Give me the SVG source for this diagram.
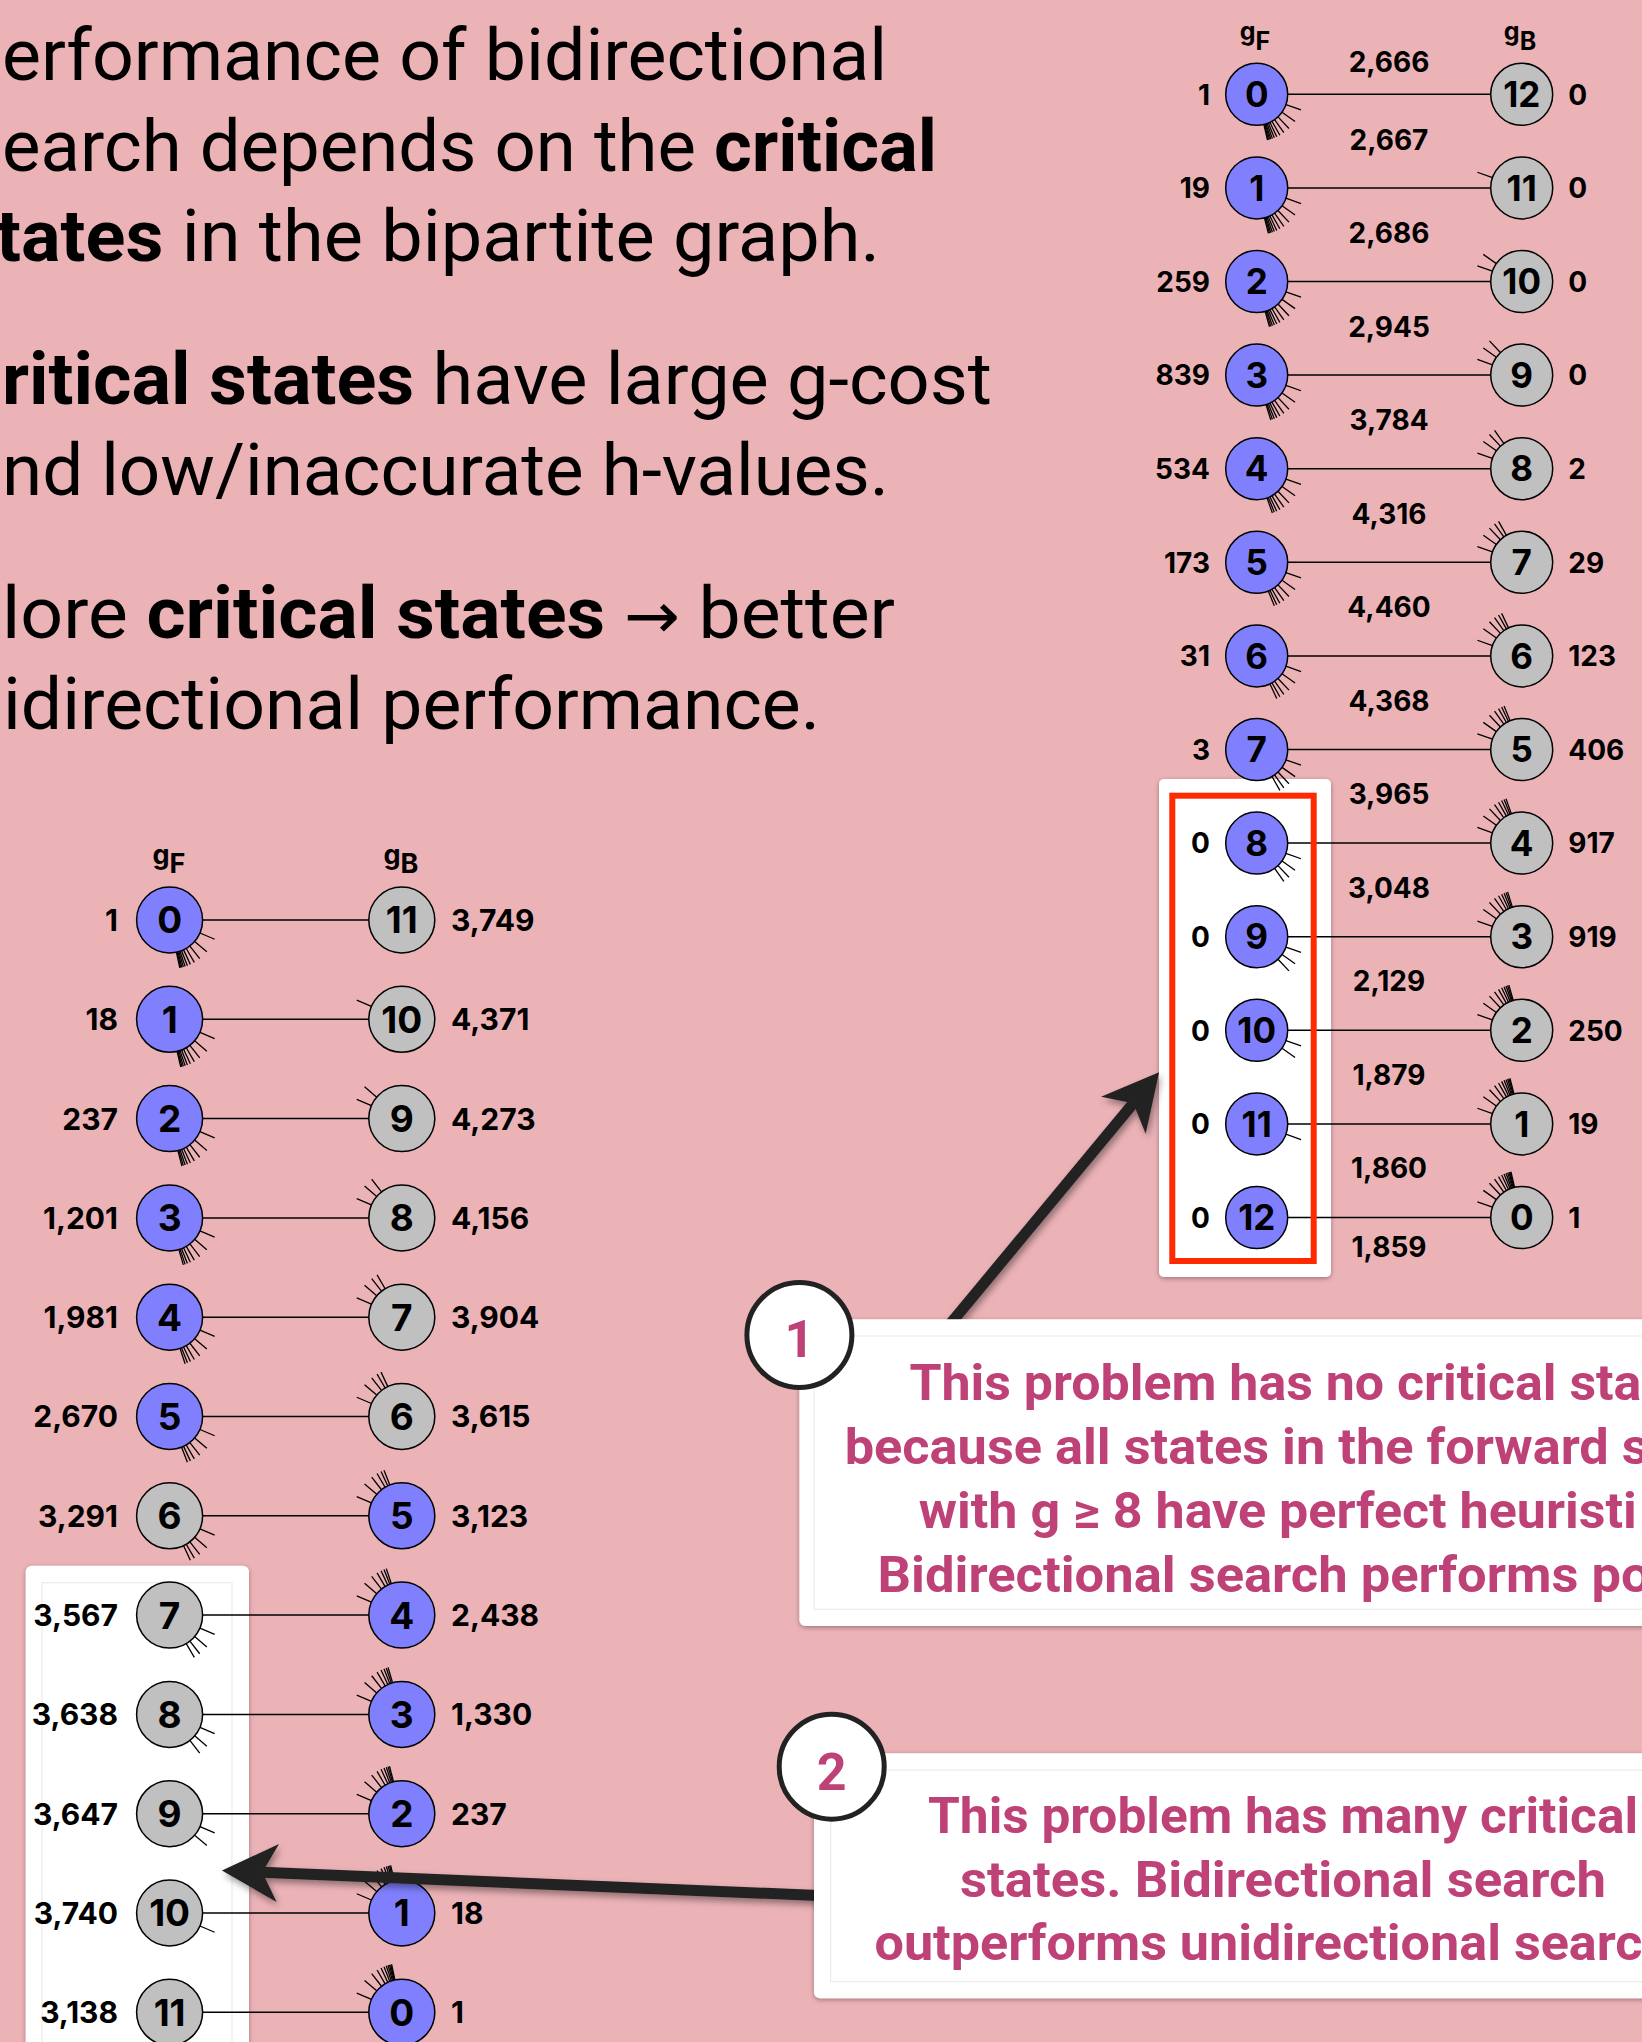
<svg xmlns="http://www.w3.org/2000/svg" xmlns:xlink="http://www.w3.org/1999/xlink" width="1642" height="2042" viewBox="0 0 1642 2042">
<style>
.nb{fill:#8080ff;stroke:#000;stroke-width:1.5}
.ng{fill:#c0c0c0;stroke:#000;stroke-width:1.5}
.nl{font-family:Inter,"Liberation Sans",sans-serif;font-weight:700;font-size:35px;text-anchor:middle;fill:#000}
.nl2{font-family:Inter,"Liberation Sans",sans-serif;font-weight:700;font-size:37px;text-anchor:middle;fill:#000}
.vl{font-family:Inter,"Liberation Sans",sans-serif;font-weight:700;font-size:28px;fill:#000}
.vl2{font-family:Inter,"Liberation Sans",sans-serif;font-weight:700;font-size:30px;fill:#000}
.el{font-family:Inter,"Liberation Sans",sans-serif;font-weight:700;font-size:28px;text-anchor:middle;fill:#000}
.e{stroke:#000;stroke-width:1.5}
.tk{stroke:#000;stroke-width:1.3}
.hd{font-family:Roboto,"Liberation Sans",sans-serif;font-size:72px;fill:#000}
.hb{font-weight:700}
.ha{font-family:"DejaVu Sans",sans-serif;font-size:64px}
.ct{font-family:Roboto,"Liberation Sans",sans-serif;font-weight:700;font-size:50px;fill:#be4277}
.cn{font-family:Roboto,"Liberation Sans",sans-serif;font-weight:700;font-size:52px;fill:#be4277;text-anchor:middle}
.box{fill:#fff}
.inner{fill:none;stroke:#ececec;stroke-width:1.2}
.arr{stroke:#222;stroke-width:11;fill:none;marker-end:url(#ah)}
.badge{fill:#fff;stroke:#222;stroke-width:5}
</style>
<defs>
<filter id="sh" x="-10%" y="-10%" width="120%" height="120%">
<feDropShadow dx="0" dy="1.5" stdDeviation="2.5" flood-color="#000" flood-opacity="0.35"/>
</filter>
<filter id="ash" x="-20%" y="-20%" width="140%" height="140%">
<feDropShadow dx="2" dy="4" stdDeviation="3.5" flood-color="#000" flood-opacity="0.4"/>
</filter>
<marker id="ah" markerUnits="userSpaceOnUse" markerWidth="56" markerHeight="58" viewBox="0 0 54 56" refX="15" refY="28" orient="auto">
<path d="M0,0 L54,28 L0,56 L15,28 Z" fill="#222"/>
</marker>
<line id="tr" class="tk" x1="31" y1="0" x2="47" y2="0"/>
<line id="tl" class="tk" x1="33" y1="0" x2="49" y2="0"/>
<g id="fR1"><use href="#tr" transform="rotate(19.45)"/></g>
<g id="fR2"><use href="#fR1"/><use href="#tr" transform="rotate(35.23)"/></g>
<g id="fR3"><use href="#fR2"/><use href="#tr" transform="rotate(46.66)"/></g>
<g id="fR4"><use href="#fR3"/><use href="#tr" transform="rotate(54.71)"/></g>
<g id="fR5"><use href="#fR4"/><use href="#tr" transform="rotate(60.48)"/></g>
<g id="fR6"><use href="#fR5"/><use href="#tr" transform="rotate(64.74)"/></g>
<g id="fR7"><use href="#fR6"/><use href="#tr" transform="rotate(67.97)"/></g>
<g id="fR8"><use href="#fR7"/><use href="#tr" transform="rotate(70.51)"/></g>
<g id="fR9"><use href="#fR8"/><use href="#tr" transform="rotate(72.54)"/></g>
<g id="fR10"><use href="#fR9"/><use href="#tr" transform="rotate(74.19)"/></g>
<g id="fR11"><use href="#fR10"/><use href="#tr" transform="rotate(75.57)"/></g>
<g id="fR12"><use href="#fR11"/><use href="#tr" transform="rotate(76.72)"/></g>
<g id="fL1"><use href="#tl" transform="rotate(23.16)"/></g>
<g id="fL2"><use href="#fL1"/><use href="#tl" transform="rotate(40.54)"/></g>
<g id="fL3"><use href="#fL2"/><use href="#tl" transform="rotate(52.07)"/></g>
<g id="fL4"><use href="#fL3"/><use href="#tl" transform="rotate(59.69)"/></g>
<g id="fL5"><use href="#fL4"/><use href="#tl" transform="rotate(64.94)"/></g>
<g id="fL6"><use href="#fL5"/><use href="#tl" transform="rotate(68.70)"/></g>
<g id="fL7"><use href="#fL6"/><use href="#tl" transform="rotate(71.53)"/></g>
<g id="fL8"><use href="#fL7"/><use href="#tl" transform="rotate(73.71)"/></g>
<g id="fL9"><use href="#fL8"/><use href="#tl" transform="rotate(75.44)"/></g>
<g id="fL10"><use href="#fL9"/><use href="#tl" transform="rotate(76.84)"/></g>
<g id="fL11"><use href="#fL10"/><use href="#tl" transform="rotate(78.00)"/></g>
</defs>

<rect x="0" y="0" width="1642" height="2042" fill="#ecb3b7"/>

<g id="heading" class="hd">
<text x="2" y="80" textLength="885" lengthAdjust="spacingAndGlyphs">erformance of bidirectional</text>
<text x="2" y="171" textLength="935" lengthAdjust="spacingAndGlyphs">earch depends on the <tspan class="hb">critical</tspan></text>
<text x="-4" y="261" textLength="884" lengthAdjust="spacingAndGlyphs"><tspan class="hb">tates</tspan> in the bipartite graph.</text>
<text x="2" y="404" textLength="990" lengthAdjust="spacingAndGlyphs"><tspan class="hb">ritical states</tspan> have large g-cost</text>
<text x="2" y="495" textLength="887" lengthAdjust="spacingAndGlyphs">nd low/inaccurate h-values.</text>
<text x="2" y="638" textLength="893" lengthAdjust="spacingAndGlyphs">lore <tspan class="hb">critical states</tspan> <tspan class="ha">→</tspan> better</text>
<text x="3" y="729" textLength="817" lengthAdjust="spacingAndGlyphs">idirectional performance.</text>
</g>

<!-- right graph -->
<g id="graph-right">
<rect id="box-right" class="box" x="1159" y="779" width="172" height="498" rx="5" filter="url(#sh)"/>
<g id="hdr-right" class="vl" text-anchor="middle">
<text x="1255" y="40" style="font-size:25px">g<tspan dy="10">F</tspan></text>
<text x="1520" y="40" style="font-size:25px">g<tspan dy="10">B</tspan></text>
</g>
<g id="edges-right">
<line class="e" x1="1287.7" y1="94.3" x2="1490.7" y2="94.3"/>
<line class="e" x1="1287.7" y1="187.9" x2="1490.7" y2="187.9"/>
<line class="e" x1="1287.7" y1="281.5" x2="1490.7" y2="281.5"/>
<line class="e" x1="1287.7" y1="375.1" x2="1490.7" y2="375.1"/>
<line class="e" x1="1287.7" y1="468.7" x2="1490.7" y2="468.7"/>
<line class="e" x1="1287.7" y1="562.3" x2="1490.7" y2="562.3"/>
<line class="e" x1="1287.7" y1="655.9" x2="1490.7" y2="655.9"/>
<line class="e" x1="1287.7" y1="749.5" x2="1490.7" y2="749.5"/>
<line class="e" x1="1287.7" y1="843.1" x2="1490.7" y2="843.1"/>
<line class="e" x1="1287.7" y1="936.7" x2="1490.7" y2="936.7"/>
<line class="e" x1="1287.7" y1="1030.3" x2="1490.7" y2="1030.3"/>
<line class="e" x1="1287.7" y1="1123.9" x2="1490.7" y2="1123.9"/>
<line class="e" x1="1287.7" y1="1217.5" x2="1490.7" y2="1217.5"/>
<g class="el">
<text x="1389" y="72">2,666</text>
<text x="1389" y="150">2,667</text>
<text x="1389" y="243.4">2,686</text>
<text x="1389" y="336.9">2,945</text>
<text x="1389" y="430.3">3,784</text>
<text x="1389" y="523.8">4,316</text>
<text x="1389" y="617.2">4,460</text>
<text x="1389" y="710.7">4,368</text>
<text x="1389" y="804.1">3,965</text>
<text x="1389" y="897.6">3,048</text>
<text x="1389" y="991">2,129</text>
<text x="1389" y="1084.5">1,879</text>
<text x="1389" y="1177.9">1,860</text>
<text x="1389" y="1257">1,859</text>
</g>
</g>
<g id="nodes-right">
<g id="rF0" transform="translate(1256.7 94.3)"><use href="#fR12"/><circle class="nb" r="31"/><text class="nl" y="12.7">0</text><text class="vl" x="-46.7" y="10.2" text-anchor="end">1</text></g>
<g id="rF1" transform="translate(1256.7 187.9)"><use href="#fR11"/><circle class="nb" r="31"/><text class="nl" y="12.7">1</text><text class="vl" x="-46.7" y="10.2" text-anchor="end">19</text></g>
<g id="rF2" transform="translate(1256.7 281.5)"><use href="#fR10"/><circle class="nb" r="31"/><text class="nl" y="12.7">2</text><text class="vl" x="-46.7" y="10.2" text-anchor="end">259</text></g>
<g id="rF3" transform="translate(1256.7 375.1)"><use href="#fR9"/><circle class="nb" r="31"/><text class="nl" y="12.7">3</text><text class="vl" x="-46.7" y="10.2" text-anchor="end">839</text></g>
<g id="rF4" transform="translate(1256.7 468.7)"><use href="#fR8"/><circle class="nb" r="31"/><text class="nl" y="12.7">4</text><text class="vl" x="-46.7" y="10.2" text-anchor="end">534</text></g>
<g id="rF5" transform="translate(1256.7 562.3)"><use href="#fR7"/><circle class="nb" r="31"/><text class="nl" y="12.7">5</text><text class="vl" x="-46.7" y="10.2" text-anchor="end">173</text></g>
<g id="rF6" transform="translate(1256.7 655.9)"><use href="#fR6"/><circle class="nb" r="31"/><text class="nl" y="12.7">6</text><text class="vl" x="-46.7" y="10.2" text-anchor="end">31</text></g>
<g id="rF7" transform="translate(1256.7 749.5)"><use href="#fR5"/><circle class="nb" r="31"/><text class="nl" y="12.7">7</text><text class="vl" x="-46.7" y="10.2" text-anchor="end">3</text></g>
<g id="rF8" transform="translate(1256.7 843.1)"><use href="#fR4"/><circle class="nb" r="31"/><text class="nl" y="12.7">8</text><text class="vl" x="-46.7" y="10.2" text-anchor="end">0</text></g>
<g id="rF9" transform="translate(1256.7 936.7)"><use href="#fR3"/><circle class="nb" r="31"/><text class="nl" y="12.7">9</text><text class="vl" x="-46.7" y="10.2" text-anchor="end">0</text></g>
<g id="rF10" transform="translate(1256.7 1030.3)"><use href="#fR2"/><circle class="nb" r="31"/><text class="nl" y="12.7">10</text><text class="vl" x="-46.7" y="10.2" text-anchor="end">0</text></g>
<g id="rF11" transform="translate(1256.7 1123.9)"><use href="#fR1"/><circle class="nb" r="31"/><text class="nl" y="12.7">11</text><text class="vl" x="-46.7" y="10.2" text-anchor="end">0</text></g>
<g id="rF12" transform="translate(1256.7 1217.5)"><circle class="nb" r="31"/><text class="nl" y="12.7">12</text><text class="vl" x="-46.7" y="10.2" text-anchor="end">0</text></g>

<g id="rB12" transform="translate(1521.7 94.3)"><circle class="ng" r="31"/><text class="nl" y="12.7">12</text><text class="vl" x="46.6" y="10.2">0</text></g>
<g id="rB11" transform="translate(1521.7 187.9)"><use href="#fR1" transform="rotate(180)"/><circle class="ng" r="31"/><text class="nl" y="12.7">11</text><text class="vl" x="46.6" y="10.2">0</text></g>
<g id="rB10" transform="translate(1521.7 281.5)"><use href="#fR2" transform="rotate(180)"/><circle class="ng" r="31"/><text class="nl" y="12.7">10</text><text class="vl" x="46.6" y="10.2">0</text></g>
<g id="rB9" transform="translate(1521.7 375.1)"><use href="#fR3" transform="rotate(180)"/><circle class="ng" r="31"/><text class="nl" y="12.7">9</text><text class="vl" x="46.6" y="10.2">0</text></g>
<g id="rB8" transform="translate(1521.7 468.7)"><use href="#fR4" transform="rotate(180)"/><circle class="ng" r="31"/><text class="nl" y="12.7">8</text><text class="vl" x="46.6" y="10.2">2</text></g>
<g id="rB7" transform="translate(1521.7 562.3)"><use href="#fR5" transform="rotate(180)"/><circle class="ng" r="31"/><text class="nl" y="12.7">7</text><text class="vl" x="46.6" y="10.2">29</text></g>
<g id="rB6" transform="translate(1521.7 655.9)"><use href="#fR6" transform="rotate(180)"/><circle class="ng" r="31"/><text class="nl" y="12.7">6</text><text class="vl" x="46.6" y="10.2">123</text></g>
<g id="rB5" transform="translate(1521.7 749.5)"><use href="#fR7" transform="rotate(180)"/><circle class="ng" r="31"/><text class="nl" y="12.7">5</text><text class="vl" x="46.6" y="10.2">406</text></g>
<g id="rB4" transform="translate(1521.7 843.1)"><use href="#fR8" transform="rotate(180)"/><circle class="ng" r="31"/><text class="nl" y="12.7">4</text><text class="vl" x="46.6" y="10.2">917</text></g>
<g id="rB3" transform="translate(1521.7 936.7)"><use href="#fR9" transform="rotate(180)"/><circle class="ng" r="31"/><text class="nl" y="12.7">3</text><text class="vl" x="46.6" y="10.2">919</text></g>
<g id="rB2" transform="translate(1521.7 1030.3)"><use href="#fR10" transform="rotate(180)"/><circle class="ng" r="31"/><text class="nl" y="12.7">2</text><text class="vl" x="46.6" y="10.2">250</text></g>
<g id="rB1" transform="translate(1521.7 1123.9)"><use href="#fR11" transform="rotate(180)"/><circle class="ng" r="31"/><text class="nl" y="12.7">1</text><text class="vl" x="46.6" y="10.2">19</text></g>
<g id="rB0" transform="translate(1521.7 1217.5)"><use href="#fR12" transform="rotate(180)"/><circle class="ng" r="31"/><text class="nl" y="12.7">0</text><text class="vl" x="46.6" y="10.2">1</text></g>
</g>
<rect id="highlight" x="1172.3" y="795.7" width="141.4" height="465.3" fill="none" stroke="#ff2a00" stroke-width="6"/>
</g>

<!-- left graph -->
<g id="graph-left">
<rect id="box-left" class="box" x="25.7" y="1565.7" width="223.3" height="600" rx="6" filter="url(#sh)"/>
<rect class="inner" x="42" y="1582.7" width="190" height="520"/>
<g id="hdr-left" class="vl">
<text x="169" y="864" text-anchor="middle" style="font-size:27px">g<tspan dy="9">F</tspan></text>
<text x="401" y="864" text-anchor="middle" style="font-size:27px">g<tspan dy="9">B</tspan></text>
</g>
<g id="edges-left">
<line class="e" x1="202.6" y1="920" x2="368.8" y2="920"/>
<line class="e" x1="202.6" y1="1019.3" x2="368.8" y2="1019.3"/>
<line class="e" x1="202.6" y1="1118.6" x2="368.8" y2="1118.6"/>
<line class="e" x1="202.6" y1="1217.9" x2="368.8" y2="1217.9"/>
<line class="e" x1="202.6" y1="1317.2" x2="368.8" y2="1317.2"/>
<line class="e" x1="202.6" y1="1416.5" x2="368.8" y2="1416.5"/>
<line class="e" x1="202.6" y1="1515.8" x2="368.8" y2="1515.8"/>
<line class="e" x1="202.6" y1="1615.1" x2="368.8" y2="1615.1"/>
<line class="e" x1="202.6" y1="1714.4" x2="368.8" y2="1714.4"/>
<line class="e" x1="202.6" y1="1813.7" x2="368.8" y2="1813.7"/>
<line class="e" x1="202.6" y1="1913" x2="368.8" y2="1913"/>
<line class="e" x1="202.6" y1="2012.3" x2="368.8" y2="2012.3"/>
</g>
<g id="nodes-left">
<g id="lF0" transform="translate(169.6 920)"><use href="#fL11"/><circle class="nb" r="33"/><text class="nl2" y="13.4">0</text><text class="vl2" x="-51.6" y="10.9" text-anchor="end">1</text></g>
<g id="lF1" transform="translate(169.6 1019.3)"><use href="#fL10"/><circle class="nb" r="33"/><text class="nl2" y="13.4">1</text><text class="vl2" x="-51.6" y="10.9" text-anchor="end">18</text></g>
<g id="lF2" transform="translate(169.6 1118.6)"><use href="#fL9"/><circle class="nb" r="33"/><text class="nl2" y="13.4">2</text><text class="vl2" x="-51.6" y="10.9" text-anchor="end">237</text></g>
<g id="lF3" transform="translate(169.6 1217.9)"><use href="#fL8"/><circle class="nb" r="33"/><text class="nl2" y="13.4">3</text><text class="vl2" x="-51.6" y="10.9" text-anchor="end">1,201</text></g>
<g id="lF4" transform="translate(169.6 1317.2)"><use href="#fL7"/><circle class="nb" r="33"/><text class="nl2" y="13.4">4</text><text class="vl2" x="-51.6" y="10.9" text-anchor="end">1,981</text></g>
<g id="lF5" transform="translate(169.6 1416.5)"><use href="#fL6"/><circle class="nb" r="33"/><text class="nl2" y="13.4">5</text><text class="vl2" x="-51.6" y="10.9" text-anchor="end">2,670</text></g>
<g id="lF6" transform="translate(169.6 1515.8)"><use href="#fL5"/><circle class="ng" r="33"/><text class="nl2" y="13.4">6</text><text class="vl2" x="-51.6" y="10.9" text-anchor="end">3,291</text></g>
<g id="lF7" transform="translate(169.6 1615.1)"><use href="#fL4"/><circle class="ng" r="33"/><text class="nl2" y="13.4">7</text><text class="vl2" x="-51.6" y="10.9" text-anchor="end">3,567</text></g>
<g id="lF8" transform="translate(169.6 1714.4)"><use href="#fL3"/><circle class="ng" r="33"/><text class="nl2" y="13.4">8</text><text class="vl2" x="-51.6" y="10.9" text-anchor="end">3,638</text></g>
<g id="lF9" transform="translate(169.6 1813.7)"><use href="#fL2"/><circle class="ng" r="33"/><text class="nl2" y="13.4">9</text><text class="vl2" x="-51.6" y="10.9" text-anchor="end">3,647</text></g>
<g id="lF10" transform="translate(169.6 1913)"><use href="#fL1"/><circle class="ng" r="33"/><text class="nl2" y="13.4">10</text><text class="vl2" x="-51.6" y="10.9" text-anchor="end">3,740</text></g>
<g id="lF11" transform="translate(169.6 2012.3)"><circle class="ng" r="33"/><text class="nl2" y="13.4">11</text><text class="vl2" x="-51.6" y="10.9" text-anchor="end">3,138</text></g>

<g id="lB11" transform="translate(401.8 920)"><circle class="ng" r="33"/><text class="nl2" y="13.4">11</text><text class="vl2" x="49.2" y="10.9">3,749</text></g>
<g id="lB10" transform="translate(401.8 1019.3)"><use href="#fL1" transform="rotate(180)"/><circle class="ng" r="33"/><text class="nl2" y="13.4">10</text><text class="vl2" x="49.2" y="10.9">4,371</text></g>
<g id="lB9" transform="translate(401.8 1118.6)"><use href="#fL2" transform="rotate(180)"/><circle class="ng" r="33"/><text class="nl2" y="13.4">9</text><text class="vl2" x="49.2" y="10.9">4,273</text></g>
<g id="lB8" transform="translate(401.8 1217.9)"><use href="#fL3" transform="rotate(180)"/><circle class="ng" r="33"/><text class="nl2" y="13.4">8</text><text class="vl2" x="49.2" y="10.9">4,156</text></g>
<g id="lB7" transform="translate(401.8 1317.2)"><use href="#fL4" transform="rotate(180)"/><circle class="ng" r="33"/><text class="nl2" y="13.4">7</text><text class="vl2" x="49.2" y="10.9">3,904</text></g>
<g id="lB6" transform="translate(401.8 1416.5)"><use href="#fL5" transform="rotate(180)"/><circle class="ng" r="33"/><text class="nl2" y="13.4">6</text><text class="vl2" x="49.2" y="10.9">3,615</text></g>
<g id="lB5" transform="translate(401.8 1515.8)"><use href="#fL6" transform="rotate(180)"/><circle class="nb" r="33"/><text class="nl2" y="13.4">5</text><text class="vl2" x="49.2" y="10.9">3,123</text></g>
<g id="lB4" transform="translate(401.8 1615.1)"><use href="#fL7" transform="rotate(180)"/><circle class="nb" r="33"/><text class="nl2" y="13.4">4</text><text class="vl2" x="49.2" y="10.9">2,438</text></g>
<g id="lB3" transform="translate(401.8 1714.4)"><use href="#fL8" transform="rotate(180)"/><circle class="nb" r="33"/><text class="nl2" y="13.4">3</text><text class="vl2" x="49.2" y="10.9">1,330</text></g>
<g id="lB2" transform="translate(401.8 1813.7)"><use href="#fL9" transform="rotate(180)"/><circle class="nb" r="33"/><text class="nl2" y="13.4">2</text><text class="vl2" x="49.2" y="10.9">237</text></g>
<g id="lB1" transform="translate(401.8 1913)"><use href="#fL10" transform="rotate(180)"/><circle class="nb" r="33"/><text class="nl2" y="13.4">1</text><text class="vl2" x="49.2" y="10.9">18</text></g>
<g id="lB0" transform="translate(401.8 2012.3)"><use href="#fL11" transform="rotate(180)"/><circle class="nb" r="33"/><text class="nl2" y="13.4">0</text><text class="vl2" x="49.2" y="10.9">1</text></g>
</g>
</g>

<!-- callout connectors -->
<g id="connectors" filter="url(#ash)">
<line id="arrow-1" class="arr" x1="941" y1="1335" x2="1133.3" y2="1103.3"/>
<line id="arrow-2" class="arr" x1="830" y1="1896" x2="262.3" y2="1872.3"/>
</g>

<!-- callout 1 -->
<g id="callout-1">
<rect class="box" x="799.4" y="1319.3" width="900" height="306.7" rx="6" filter="url(#sh)"/>
<rect class="inner" x="814" y="1336" width="900" height="273.3"/>
<g class="ct">
<text x="909.4" y="1400" textLength="732" lengthAdjust="spacingAndGlyphs">This problem has no critical sta</text>
<text x="844.7" y="1464" textLength="804" lengthAdjust="spacingAndGlyphs">because all states in the forward s</text>
<text x="918.8" y="1528" textLength="718" lengthAdjust="spacingAndGlyphs">with g ≥ 8 have perfect heuristi</text>
<text x="877.6" y="1592" textLength="773" lengthAdjust="spacingAndGlyphs">Bidirectional search performs po</text>
</g>
<circle class="badge" cx="799.4" cy="1335" r="52.5"/>
<text class="cn" x="799.4" y="1357">1</text>
</g>

<!-- callout 2 -->
<g id="callout-2">
<rect class="box" x="814" y="1753.3" width="900" height="245" rx="6" filter="url(#sh)"/>
<rect class="inner" x="830.6" y="1770" width="900" height="211.7"/>
<g class="ct">
<text x="928" y="1833" textLength="710" lengthAdjust="spacingAndGlyphs">This problem has many critical</text>
<text x="960" y="1897" textLength="646" lengthAdjust="spacingAndGlyphs">states. Bidirectional search</text>
<text x="874.5" y="1960" textLength="768" lengthAdjust="spacingAndGlyphs">outperforms unidirectional searc</text>
</g>
<circle class="badge" cx="831.7" cy="1766.7" r="52.5"/>
<text class="cn" x="831.7" y="1790">2</text>
</g>
</svg>
